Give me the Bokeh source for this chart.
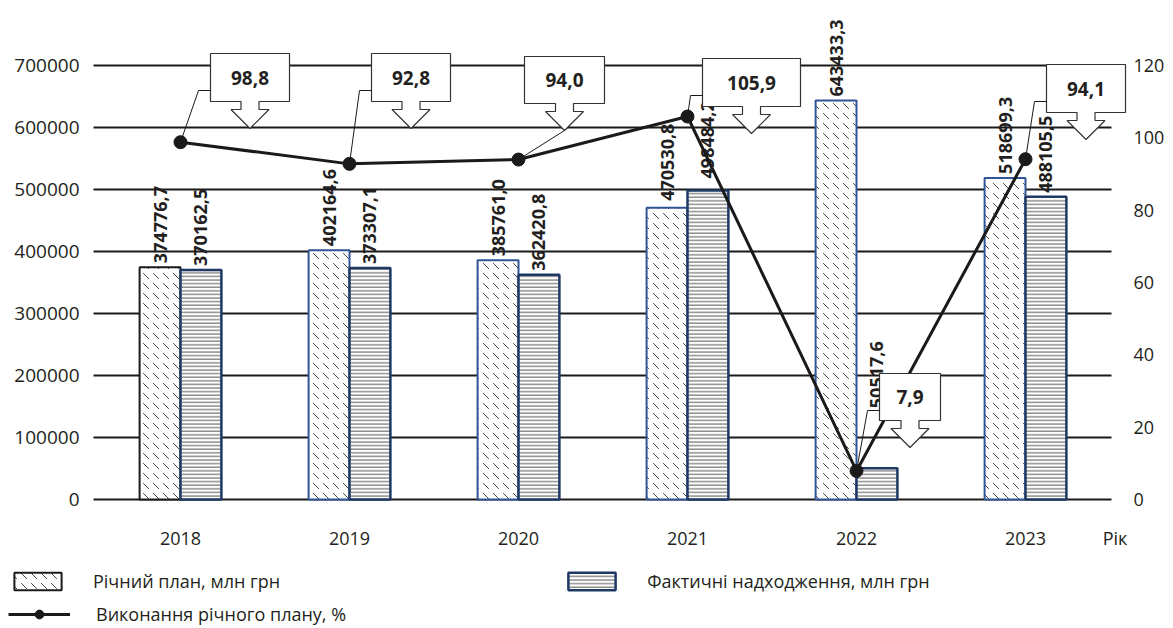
import math
from bokeh.plotting import figure
from bokeh.models import (Range1d, LinearAxis, FixedTicker, ColumnDataSource, Legend,
                          LegendItem, BasicTickFormatter)
from bokeh.core.properties import value
from bokeh.embed import file_html
from bokeh.resources import INLINE

# ---------------- data ----------------
years = ["2018", "2019", "2020", "2021", "2022", "2023"]
plan = [374776.7, 402164.6, 385761.0, 470530.8, 643433.3, 518699.3]
fact = [370162.5, 373307.1, 362420.8, 498484.2, 50517.6, 488105.5]
pct = [98.8, 92.8, 94.0, 105.9, 7.9, 94.1]
left_ticks = [0, 100000, 200000, 300000, 400000, 500000, 600000, 700000]
right_ticks = [0, 20, 40, 60, 80, 100, 120]
plan_name = "Річний план, млн грн"
fact_name = "Фактичні надходження, млн грн"
pct_name = "Виконання річного плану, %"
x_name = "Рік"

# ---------------- layout (pixel geometry of the canvas) ----------------
FONT = "Open Sans"
TXT = "#231f20"
W, H = 1173, 628
CAT0_PX = 180.0           # x pixel of first category
STEP = 169.0              # px per category
ZERO_PY = 499.0           # y pixel of value 0
ZERO_TO_TOP = 434.0       # px from 0 to 700000 / 120
PXX = 1.0 / STEP
PXY = 700000 / ZERO_TO_TOP
PXP = 120.0 / ZERO_TO_TOP


def xpx(px):
    return (px - CAT0_PX) / STEP


X_START, X_END = xpx(0), xpx(W)
Y_START, Y_END = -(H - ZERO_PY) * PXY, ZERO_PY * PXY
P_START, P_END = -(H - ZERO_PY) * PXP, ZERO_PY * PXP
AX_LEFT = xpx(93)
AX_RIGHT = xpx(1127)
GRID_X1 = xpx(1111)
XNAME_POS = 5.53

BAR_W = 0.242
OFF = 0.121

# callout layout (pixels): offset of box left from the point, box top above zero line,
# width, height, leader style
c_dx = [30, 22, 6, 15, 23, 21]
c_top = [446, 446, 443, 441, 126, 435]
c_w = [79, 79, 80, 98, 61, 79]
c_h = [48, 48, 47, 48, 47, 48]
c_lead = ["side", "side", "tip", "side", "side", "side"]
fact_lbl_extra = [0, 0, 0, -8, -56, 0]
plan_lbl_extra = [0, 0, 0, -3, 0, 0]

xs = list(range(len(years)))

p = figure(width=W, height=H, output_backend="svg", toolbar_location=None,
           x_range=Range1d(X_START, X_END), y_range=Range1d(Y_START, Y_END),
           min_border=0, x_axis_type=None, y_axis_type=None)
p.extra_y_ranges = {"pct": Range1d(P_START, P_END)}
p.outline_line_color = None
p.background_fill_color = "white"
p.border_fill_color = "white"

# axes (fixed at the chart's own baselines)
xlabels = {i: y for i, y in zip(xs, years)}
xlabels[XNAME_POS] = x_name
xaxis = LinearAxis(ticker=FixedTicker(ticks=xs + [XNAME_POS]), fixed_location=0,
                   major_label_overrides=xlabels)
yaxis = LinearAxis(ticker=FixedTicker(ticks=left_ticks), fixed_location=AX_LEFT,
                   formatter=BasicTickFormatter(use_scientific=False))
raxis = LinearAxis(y_range_name="pct", ticker=FixedTicker(ticks=right_ticks),
                   fixed_location=AX_RIGHT)
for ax, sz, so in ((xaxis, "18px", 26), (yaxis, "19px", 14), (raxis, "18px", 6)):
    ax.axis_line_color = None
    ax.major_tick_line_color = None
    ax.minor_tick_line_color = None
    ax.major_tick_out = 0
    ax.major_tick_in = 0
    ax.minor_tick_out = 0
    ax.major_label_text_font = FONT
    ax.major_label_text_font_size = sz
    ax.major_label_text_color = TXT
    ax.major_label_standoff = so
p.add_layout(xaxis, "below")
p.add_layout(yaxis, "left")
p.add_layout(raxis, "right")

# gridlines
p.segment(x0=[AX_LEFT] * len(left_ticks), x1=[GRID_X1] * len(left_ticks),
          y0=left_ticks, y1=left_ticks, line_color="#1a1a1a", line_width=2)

# bars
src = ColumnDataSource(dict(
    xp=[x - OFF for x in xs], xf=[x + OFF for x in xs], plan=plan, fact=fact,
    pcol=["#1a1a1a"] + ["#2f5597"] * (len(xs) - 1),
    fcol=["#1a1a1a"] + ["#1f3864"] * (len(xs) - 1),
    plab=[f"{v:.1f}".replace(".", ",") for v in plan],
    flab=[f"{v:.1f}".replace(".", ",") for v in fact],
    poff=[-4 + e for e in plan_lbl_extra], foff=[-4 + e for e in fact_lbl_extra],
))
r_plan = p.vbar(x="xp", top="plan", width=BAR_W, source=src, line_color="pcol",
                line_width=2, fill_color="white", hatch_pattern="left_diagonal_dash",
                hatch_color="#444444", hatch_scale=10, hatch_weight=1)
r_fact = p.vbar(x="xf", top="fact", width=BAR_W, source=src, line_color="#1f3864",
                line_width=2.5, fill_color="white", hatch_pattern="horizontal_line",
                hatch_color="#555555", hatch_scale=3.6, hatch_weight=1)

for xcol, ycol, tcol, ocol in (("xp", "plan", "plab", "poff"), ("xf", "fact", "flab", "foff")):
    p.text(x=xcol, y=ycol, text=tcol, y_offset=ocol, source=src, angle=math.pi / 2,
           text_align="left", text_baseline="middle", text_font=value(FONT),
           text_font_style="bold", text_font_size="18px", text_color=TXT)

# line
r_line = p.line(xs, pct, y_range_name="pct", line_color="#1a1a1a", line_width=3)
r_dots = p.scatter(xs, pct, y_range_name="pct", size=13, marker="circle",
                   fill_color="#1a1a1a", line_color="#1a1a1a")

# callouts
SW, SH, HW, HH = 18, 8, 38, 19
cxs, cys, lxs, lys, tx, ty, tt = [], [], [], [], [], [], []
for i in xs:
    bx0 = i + c_dx[i] * PXX
    w, h, top = c_w[i], c_h[i], c_top[i]
    cx = w / 2.0
    pts = [(0, 0), (w, 0), (w, h), (cx + SW / 2, h), (cx + SW / 2, h + SH),
           (cx + HW / 2, h + SH), (cx, h + SH + HH), (cx - HW / 2, h + SH),
           (cx - SW / 2, h + SH), (cx - SW / 2, h), (0, h)]
    cxs.append([bx0 + a * PXX for a, b in pts])
    cys.append([(top - b) * PXP for a, b in pts])
    if c_lead[i] == "side":
        ly = (top - 37) * PXP
        lxs.append([bx0, bx0 - 12 * PXX, i])
        lys.append([ly, ly, pct[i]])
    else:
        lxs.append([bx0 + cx * PXX, i])
        lys.append([(top - h - SH - HH) * PXP, pct[i]])
    tx.append(bx0 + cx * PXX)
    ty.append((top - h / 2.0) * PXP)
    tt.append(f"{pct[i]:.1f}".replace(".", ","))

p.patches(cxs, cys, y_range_name="pct", fill_color="white", line_color="#333333",
          line_width=1.2)
p.multi_line(lxs, lys, y_range_name="pct", line_color="#1a1a1a", line_width=1)
p.text(tx, ty, text=tt, y_range_name="pct", text_align="center", text_baseline="middle",
       text_font=value(FONT), text_font_style="bold", text_font_size="19px", text_color=TXT)

# legends
common = dict(padding=0, margin=0, border_line_color=None, background_fill_alpha=0,
              label_text_font=FONT, label_text_font_size="18px", label_text_color=TXT,
              label_standoff=26, glyph_height=22)
leg1 = Legend(items=[LegendItem(label=plan_name, renderers=[r_plan], index=0),
                     LegendItem(label=fact_name, renderers=[r_fact], index=0)],
              orientation="horizontal", location=(8, 35.5), glyph_width=59, spacing=282,
              **common)
leg2 = Legend(items=[LegendItem(label=pct_name, renderers=[r_line, r_dots], index=0)],
              location=(8, 2.5), glyph_width=62, **common)
p.add_layout(leg1)
p.add_layout(leg2)

open("out.html", "w").write(file_html(p, INLINE))
